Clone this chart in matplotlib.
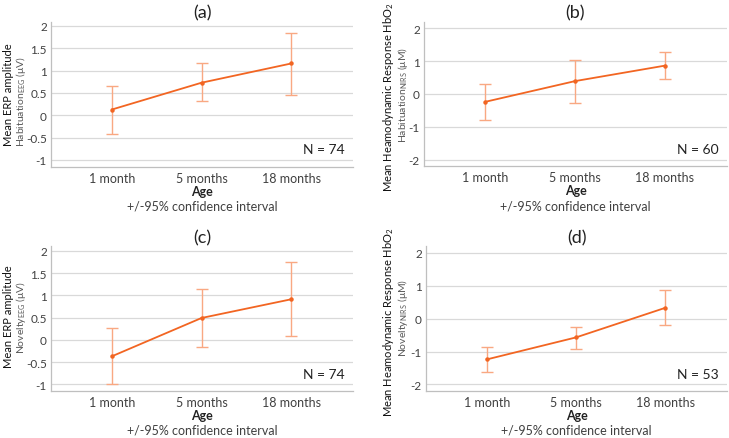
import matplotlib
matplotlib.use("Agg")
import matplotlib.pyplot as plt

plt.rcParams['font.family'] = ['Lato', 'DejaVu Sans']
plt.rcParams['mathtext.fontset'] = 'custom'
plt.rcParams['mathtext.rm'] = 'Lato'

ages = ["1 month", "5 months", "18 months"]

# Panel (a): Habituation EEG
a_mean = [0.13, 0.73, 1.16]
a_low = [-0.41, 0.31, 0.46]
a_high = [0.66, 1.16, 1.84]
# Panel (b): Habituation NIRS
b_mean = [-0.24, 0.39, 0.86]
b_low = [-0.78, -0.28, 0.44]
b_high = [0.30, 1.04, 1.27]
# Panel (c): Novelty EEG
c_mean = [-0.37, 0.49, 0.91]
c_low = [-0.99, -0.17, 0.09]
c_high = [0.26, 1.14, 1.74]
# Panel (d): Novelty NIRS
d_mean = [-1.24, -0.57, 0.33]
d_low = [-1.62, -0.92, -0.20]
d_high = [-0.86, -0.25, 0.86]

W, H = 729, 439
fig = plt.figure(figsize=(W / 100, H / 100), dpi=100)

LINE = "#F26522"
ERR = "#F9A882"
GRID = "#D9D9D9"
TXT = "#404040"


def px(x, y):
    return x / W, 1 - y / H


panels = [
    dict(title="(a)", mean=a_mean, low=a_low, high=a_high, box=(51, 22.5, 353, 167.7),
         ylim=(-1.15, 2.1), yticks=[-1, -0.5, 0, 0.5, 1, 1.5, 2],
         ytl=["-1", "-0.5", "0", "0.5", "1", "1.5", "2"], n="N = 74",
         l1="Mean ERP amplitude", l2=r"Habituation$_{\mathregular{EEG}}$ (μV)",
         l1pos=(8.5, 95), l2pos=(21, 102)),
    dict(title="(b)", mean=b_mean, low=b_low, high=b_high, box=(424, 22.5, 727, 167.4),
         ylim=(-2.2, 2.2), yticks=[-2, -1, 0, 1, 2],
         ytl=["-2", "-1", "0", "1", "2"], n="N = 60",
         l1=r"Mean Heamodynamic Response HbO$_{\mathregular{2}}$", l2=r"Habituation$_{\mathregular{NIRS}}$ (μM)",
         l1pos=(388, 97), l2pos=(403, 95)),
    dict(title="(c)", mean=c_mean, low=c_low, high=c_high, box=(51, 247.3, 353, 392),
         ylim=(-1.15, 2.1), yticks=[-1, -0.5, 0, 0.5, 1, 1.5, 2],
         ytl=["-1", "-0.5", "0", "0.5", "1", "1.5", "2"], n="N = 74",
         l1="Mean ERP amplitude", l2=r"Novelty$_{\mathregular{EEG}}$ (μV)",
         l1pos=(8.5, 317), l2pos=(21, 317)),
    dict(title="(d)", mean=d_mean, low=d_low, high=d_high, box=(426, 247.3, 727, 392),
         ylim=(-2.2, 2.2), yticks=[-2, -1, 0, 1, 2],
         ytl=["-2", "-1", "0", "1", "2"], n="N = 53",
         l1=r"Mean Heamodynamic Response HbO$_{\mathregular{2}}$", l2=r"Novelty$_{\mathregular{NIRS}}$ (μM)",
         l1pos=(388, 322), l2pos=(403, 318)),
]

for p in panels:
    x0, y0, x1, y1 = p["box"]
    ax = fig.add_axes([x0 / W, 1 - y1 / H, (x1 - x0) / W, (y1 - y0) / H])
    xs = list(range(len(ages)))
    yerr = [[m - l for m, l in zip(p["mean"], p["low"])],
            [h - m for m, h in zip(p["mean"], p["high"])]]
    ax.errorbar(xs, p["mean"], yerr=yerr, fmt="none", ecolor=ERR, elinewidth=1.0,
                capsize=4.5, capthick=1.0, zorder=2)
    ax.plot(xs, p["mean"], color=LINE, lw=1.3, marker="o", ms=2.2, zorder=3)
    ax.set_xlim(-0.68, 2.69)
    ax.set_ylim(*p["ylim"])
    ax.set_yticks(p["yticks"])
    ax.set_yticklabels(p["ytl"])
    ax.set_xticks(xs)
    ax.set_xticklabels(ages)
    ax.tick_params(length=0, labelsize=8.5, labelcolor=TXT, pad=3)
    ax.tick_params(axis="x", labelsize=9, pad=3.5)
    ax.yaxis.grid(True, color=GRID, lw=0.9)
    ax.set_axisbelow(True)
    for s in ["top", "right"]:
        ax.spines[s].set_visible(False)
    for s in ["left", "bottom"]:
        ax.spines[s].set_color("#BFBFBF")
        ax.spines[s].set_linewidth(0.9)
    ax.set_title(p["title"], fontsize=13, color="#222222", pad=3)
    ax.text(0.973, 0.12, p["n"], transform=ax.transAxes, ha="right", va="center",
            fontsize=10, color="#222222")
    cx = (x0 + x1) / 2
    fig.text(*px(cx, y1 + 24), "Age", ha="center", va="center", fontsize=9,
             fontweight="bold", color="#222222")
    fig.text(*px(cx, y1 + 39), "+/-95% confidence interval", ha="center", va="center",
             fontsize=9, color=TXT)
    fig.text(*px(*p["l1pos"]), p["l1"], rotation=90, ha="center", va="center",
             fontsize=8, color="#111111")
    fig.text(*px(*p["l2pos"]), p["l2"], rotation=90, ha="center", va="center",
             fontsize=7.5, color="#595959")

fig.savefig("out.png", dpi=100)
